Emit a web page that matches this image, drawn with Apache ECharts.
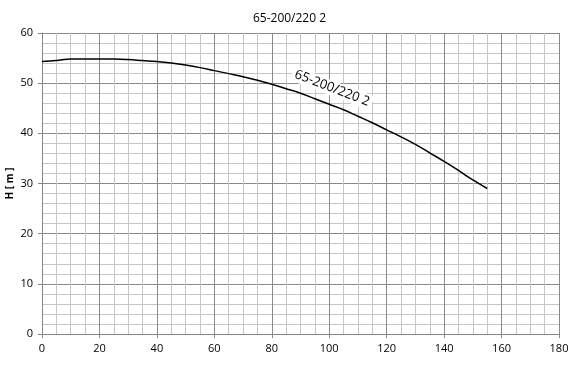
<!DOCTYPE html>
<html><head><meta charset="utf-8">
<script src="https://cdn.jsdelivr.net/npm/echarts@6/dist/echarts.min.js"></script>
<style>html,body{margin:0;padding:0;background:#fff}#c{width:579px;height:370px}</style>
</head><body><div id="c"></div>
<script>
const titleText = "65-200/220 2";
const curveLabel = "65-200/220 2";
const flowQ = [0,5,10,15,20,25,30,35,40,45,50,55,60,65,70,75,80,85,90,95,100,105,110,115,120,125,130,135,140,145,150,155];
const headH = [54.3,54.5,54.8,54.8,54.8,54.8,54.7,54.5,54.3,54.0,53.6,53.1,52.5,51.9,51.3,50.6,49.8,48.9,48.0,46.9,45.8,44.7,43.4,42.1,40.7,39.3,37.8,36.1,34.4,32.6,30.7,29.0];
const labelAt = [101, 49.0];
const yName = "H [ m ]";

const font = "'Open Sans', 'Liberation Sans', sans-serif";
const chart = echarts.init(document.getElementById('c'), null, {renderer:'canvas'});
chart.setOption({
  animation:false,
  title:{text:titleText,left:'center',top:8,textStyle:{fontFamily:font,fontSize:12,fontWeight:'normal',color:'#000'}},
  grid:{left:42,right:20,top:33,bottom:36,containLabel:false,outerBoundsMode:'none'},
  xAxis:{type:'value',min:0,max:180,interval:20,
    axisLine:{show:true,lineStyle:{color:'#868686'}},
    axisTick:{show:true,length:4,lineStyle:{color:'#868686'}},
    axisLabel:{fontFamily:font,fontSize:11,color:'#000',margin:9},
    splitLine:{show:true,lineStyle:{color:'#8a8a8a',width:1}},
    minorTick:{show:false,splitNumber:4},
    minorSplitLine:{show:true,lineStyle:{color:'#c6c6c6',width:1}}},
  yAxis:{type:'value',min:0,max:60,interval:10,name:yName,nameLocation:'middle',nameGap:27,nameMoveOverlap:false,
    nameTextStyle:{fontFamily:font,fontSize:10,fontWeight:'bold',color:'#000'},
    axisLine:{show:true,lineStyle:{color:'#868686'}},
    axisTick:{show:true,length:4,lineStyle:{color:'#868686'}},
    axisLabel:{fontFamily:font,fontSize:11,color:'#000',margin:9},
    splitLine:{show:true,lineStyle:{color:'#8a8a8a',width:1}},
    minorTick:{show:false,splitNumber:5},
    minorSplitLine:{show:true,lineStyle:{color:'#c6c6c6',width:1}}},
  series:[{type:'line',data:flowQ.map((q,i)=>[q,headH[i]]),smooth:0.4,showSymbol:false,
    lineStyle:{color:'#000',width:1.5},
    markPoint:{symbol:'circle',symbolSize:0,silent:true,
      data:[{coord:labelAt,label:{show:true,formatter:curveLabel,rotate:-21,fontFamily:font,fontSize:13,color:'#000',
        backgroundColor:'#fff',padding:[1,3],position:'inside'}}]}}]
});
</script></body></html>
